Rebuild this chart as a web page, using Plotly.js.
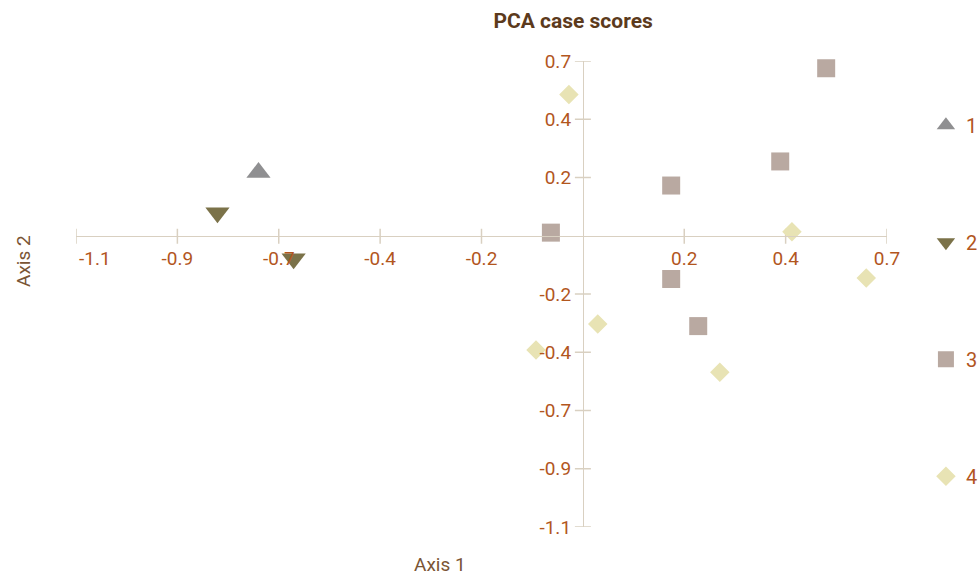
<!DOCTYPE html>
<html>
<head>
<meta charset="utf-8">
<script src="https://cdn.plot.ly/plotly-3.0.1.min.js"></script>
<style>html,body{margin:0;padding:0;background:#fff;}#chart{width:978px;height:576px;}</style>
</head>
<body>
<div id="chart"></div>
<script>
// Data
const seriesNames = ["1", "2", "3", "4"];
const s1x = [-1.13, -0.72];
const s1y = [-0.04, 0.244];
const s2x = [-0.811, -0.642];
const s2y = [0.089, -0.089];
const s3x = [-0.071, 0.196, 0.196, 0.256, 0.438, 0.540];
const s3y = [0.012, 0.194, -0.167, -0.349, 0.287, 0.647];
const s4x = [-0.031, 0.464, 0.629, 0.033, -0.104, 0.304];
const s4y = [0.546, 0.015, -0.163, -0.341, -0.441, -0.527];
const tickVals = [-1.125, -0.9, -0.675, -0.45, -0.225, 0.225, 0.45, 0.675];
const xTickText = ["-1.1", "-0.9", "-0.7", "-0.4", "-0.2", "0.2", "0.4", "0.7"];
const yTickText = ["-1.1", "-0.9", "-0.7", "-0.4", "-0.2", "0.2", "0.4", "0.7"];
const axisRange = [-1.125, 0.675];

const FONT = "Roboto, 'DejaVu Sans', sans-serif";
const LABEL = "#b2561e";
const LINE = "#d9d0c1";

const symbols = ["triangle-up", "triangle-down", "square", "diamond"];
const colors = ["#8f8f91", "#7b7249", "#b9a9a1", "#e8e3b4"];
const sizes = [21, 21, 18, 15];
const xs = [s1x, s2x, s3x, s4x];
const ys = [s1y, s2y, s3y, s4y];

const traces = seriesNames.map((n, i) => ({
  type: "scatter", mode: "markers", name: n, x: xs[i], y: ys[i],
  legendgroup: "g" + i, cliponaxis: false,
  marker: {symbol: symbols[i], color: colors[i], size: sizes[i], line: {width: 0}}
}));

const padLeft = "\u00a0".repeat(8);
const xText = xTickText.map((t, i) => i === 0 ? padLeft + t : t);

const zeroPos = 1.125 / 1.8;

// crossing tick marks built from tick values
const tickShapes = [];
tickVals.forEach(v => {
  tickShapes.push({type: "line", xref: "x", yref: "y", ysizemode: "pixel", yanchor: 0,
    x0: v, x1: v, y0: -8, y1: 7, line: {color: LINE, width: 1.5}, layer: "below"});
  tickShapes.push({type: "line", xref: "x", yref: "y", xsizemode: "pixel", xanchor: 0,
    y0: v, y1: v, x0: -8, x1: 8, line: {color: LINE, width: 1.5}, layer: "below"});
});

const layout = {
  width: 978, height: 576,
  margin: {l: 76, r: 91, t: 61, b: 49, pad: 0, autoexpand: false},
  paper_bgcolor: "#ffffff", plot_bgcolor: "#ffffff",
  font: {family: FONT, size: 19, color: LABEL},
  title: {text: "<b>PCA case scores</b>", x: 0.586, xref: "container", xanchor: "center",
          y: 1 - 21/576, yref: "container", yanchor: "middle",
          font: {family: FONT, size: 21, color: "#5c3a1c"}},
  showlegend: true,
  legend: {x: 1.048, xanchor: "left", y: 0.904, yanchor: "top",
           tracegroupgap: 88, bgcolor: "rgba(0,0,0,0)", font: {family: FONT, size: 20, color: LABEL}},
  xaxis: {range: axisRange, anchor: "free", position: zeroPos, showgrid: false, zeroline: false,
          showline: true, linecolor: LINE, linewidth: 1.5, automargin: false,
          tickmode: "array", tickvals: tickVals, ticktext: xText,
          ticks: "outside", ticklen: 5, tickcolor: "rgba(0,0,0,0)", tickwidth: 1.5,
          tickfont: {family: FONT, size: 19, color: LABEL}},
  yaxis: {range: axisRange, anchor: "free", position: zeroPos, showgrid: false, zeroline: false,
          showline: true, linecolor: LINE, linewidth: 1.5, automargin: false,
          tickmode: "array", tickvals: tickVals, ticktext: yTickText,
          ticks: "outside", ticklen: 8, tickcolor: "rgba(0,0,0,0)", tickwidth: 1.5,
          tickfont: {family: FONT, size: 19, color: LABEL}},
  shapes: tickShapes,
  annotations: [
    {text: "Axis 1", xref: "paper", yref: "paper", x: 0.449, y: -0.0815, showarrow: false,
     xanchor: "center", yanchor: "middle", font: {family: FONT, size: 19, color: "#7a5535"}},
    {text: "Axis 2", xref: "paper", yref: "paper", x: -0.064, y: 0.571, showarrow: false,
     textangle: -90, xanchor: "center", yanchor: "middle", font: {family: FONT, size: 19, color: "#7a5535"}}
  ]
};

Plotly.newPlot("chart", traces, layout, {displayModeBar: false, staticPlot: true});
</script>
</body>
</html>
